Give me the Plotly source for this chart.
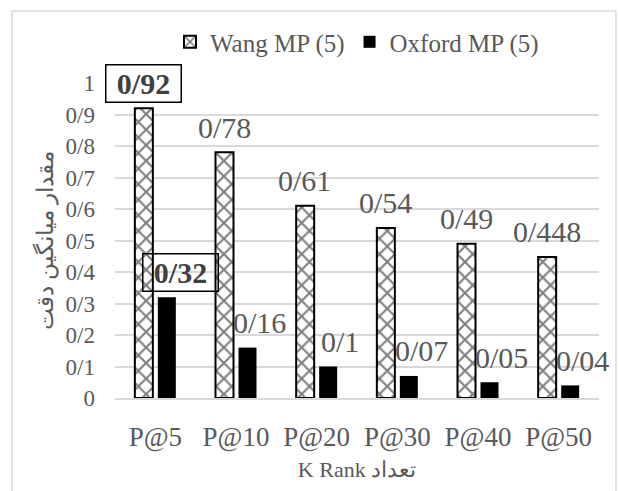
import plotly.graph_objects as go

categories = ["P@5", "P@10", "P@20", "P@30", "P@40", "P@50"]
wang = [0.92, 0.78, 0.61, 0.54, 0.49, 0.448]
oxford = [0.32, 0.16, 0.1, 0.07, 0.05, 0.04]
series_names = ["Wang MP (5)", "Oxford MP (5)"]
y_ticks = [0, 0.1, 0.2, 0.3, 0.4, 0.5, 0.6, 0.7, 0.8, 0.9, 1]
y_tick_labels = ["0", "0/1", "0/2", "0/3", "0/4", "0/5", "0/6", "0/7", "0/8", "0/9", "1"]
highlighted = {("Wang MP (5)", "P@5"), ("Oxford MP (5)", "P@5")}

FONT = "Liberation Serif, DejaVu Serif, serif"
GRAY = "#595959"


def fmt(v):
    return str(v).replace(".", "/")


fig = go.Figure()
fig.add_trace(go.Bar(
    name=series_names[0], x=categories, y=wang,
    marker=dict(color="white", line=dict(color="black", width=2),
                pattern=dict(shape="x", fgcolor="black", bgcolor="white", size=11, solidity=0.35)),
))
fig.add_trace(go.Bar(
    name=series_names[1], x=categories, y=oxford,
    marker=dict(color="black", line=dict(color="black", width=0)),
))

annotations = []
for name, vals, xs in [(series_names[0], wang, -11.8), (series_names[1], oxford, 11.8 + 12)]:
    for c, v in zip(categories, vals):
        hl = (name, c) in highlighted
        a = dict(x=c, y=v, xref="x", yref="y", text=fmt(v), showarrow=False,
                 xshift=xs + (1 if hl and name == series_names[1] else 0), yshift=25,
                 yanchor="middle", xanchor="center",
                 font=dict(family=FONT, size=30, color=GRAY))
        if hl:
            a.update(text="<b>" + fmt(v) + "</b>", bordercolor="black", borderwidth=1.5,
                     width=74, height=36, borderpad=0,
                     font=dict(family=FONT, size=30, color="#404040"))
        annotations.append(a)

fig.update_layout(
    width=619, height=491,
    margin=dict(l=115, r=20, t=83, b=93),
    paper_bgcolor="white", plot_bgcolor="white",
    barmode="group", bargap=0.43, bargroupgap=0.217,
    font=dict(family=FONT, color=GRAY),
    legend=dict(orientation="h", x=0.5, xanchor="center", y=1.13, yanchor="middle",
                font=dict(family=FONT, size=25, color=GRAY), itemwidth=30,
                traceorder="normal"),
    annotations=annotations,
    shapes=[dict(type="rect", xref="paper", yref="paper",
                 x0=-0.2128, x1=1.035, y0=-0.32, y1=1.2286,
                 line=dict(color="#d9d9d9", width=1.5), fillcolor="rgba(0,0,0,0)", layer="below")],
)
fig.update_xaxes(
    automargin=False, range=[-0.5, len(categories) - 0.5],
    showgrid=False, showline=True, linecolor="#d9d9d9", linewidth=1.5,
    ticks="", tickfont=dict(family=FONT, size=27, color=GRAY), ticklabelstandoff=14,
    title=dict(text="K Rank تعداد", font=dict(family=FONT, size=22, color=GRAY), standoff=10),
)
fig.update_yaxes(
    automargin=False,
    range=[0, 1], tickvals=y_ticks, ticktext=y_tick_labels,
    showgrid=True, gridcolor="#d9d9d9", gridwidth=1.5, zeroline=False,
    ticks="", tickfont=dict(family=FONT, size=23, color=GRAY), ticklabelstandoff=19,
    title=dict(text="مقدار میانگین دقت", font=dict(family=FONT, size=23, color=GRAY), standoff=5),
)

fig.write_html("out.html")
